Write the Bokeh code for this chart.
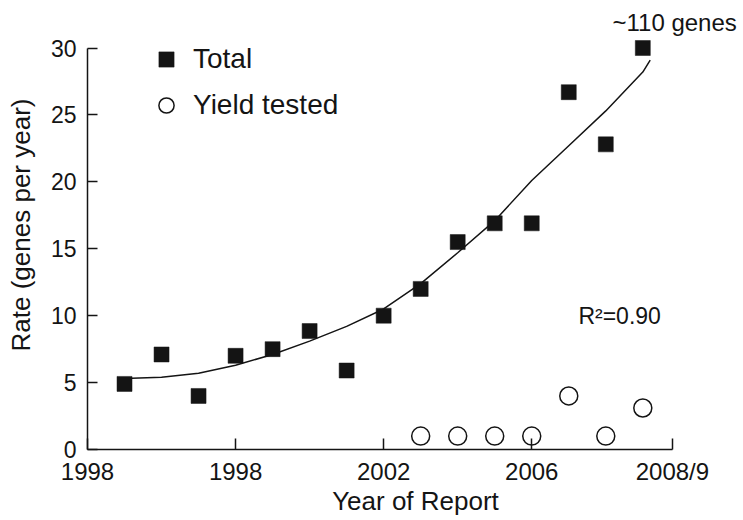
from bokeh.plotting import figure
from bokeh.models import Range1d, FixedTicker, Legend, LegendItem, ColumnDataSource
from bokeh.core.properties import value
from bokeh.embed import file_html
from bokeh.resources import INLINE

# ---- data ----
years = [1995, 1996, 1997, 1998, 1999, 2000, 2001, 2002,
         2003, 2004, 2005, 2006, 2007, 2008, 2009]
total = [4.9, 7.1, 4.0, 7.0, 7.5, 8.85, 5.9, 10.0,
         12.0, 15.5, 16.9, 16.9, 26.7, 22.8, 30.0]
yield_years = [2003, 2004, 2005, 2006, 2007, 2008, 2009]
yield_tested = [1.0, 1.0, 1.0, 1.0, 4.0, 1.0, 3.1]
trend_years = [1995, 1996, 1997, 1998, 1999, 2000, 2001, 2002,
               2003, 2004, 2005, 2006, 2007, 2008, 2009, 2009.2]
trend = [5.3, 5.4, 5.7, 6.3, 7.1, 8.1, 9.2, 10.5,
         12.4, 14.7, 17.1, 20.1, 22.7, 25.3, 28.2, 29.1]
x_ticks = [1994, 1998, 2002, 2006, 2009.8]
x_tick_labels = ["1998", "1998", "2002", "2006", "2008/9"]
y_ticks = [0, 5, 10, 15, 20, 25, 30]

FONT = "Liberation Sans"
INK = "#141414"

p = figure(width=743, height=520, output_backend="svg", toolbar_location=None,
           x_range=Range1d(1994, 2011.72), y_range=Range1d(0, 33.55),
           min_border_left=87, min_border_right=0, min_border_top=0,
           min_border_bottom=71)
p.outline_line_color = None
p.xgrid.visible = False
p.ygrid.visible = False
p.background_fill_color = "white"
p.border_fill_color = "white"

src_total = ColumnDataSource(dict(x=years, y=total))
src_yield = ColumnDataSource(dict(x=yield_years, y=yield_tested))
src_trend = ColumnDataSource(dict(x=trend_years, y=trend))

p.line("x", "y", source=src_trend, line_color=INK, line_width=1.5)
r_total = p.scatter("x", "y", source=src_total, marker="square", size=15,
                    fill_color=INK, line_color=INK, line_width=0.5)
r_yield = p.scatter("x", "y", source=src_yield, marker="circle", size=18,
                    fill_color="white", line_color=INK, line_width=1.5)

# axes
xa = p.xaxis[0]
xa.bounds = (1994, 2009.8)
xa.ticker = FixedTicker(ticks=x_ticks)
xa.major_label_overrides = {t: l for t, l in zip(x_ticks, x_tick_labels)}
xa.minor_tick_line_color = None
xa.major_tick_in = 11
xa.major_tick_out = 0
xa.axis_line_width = 1.5
xa.major_tick_line_width = 1.5
xa.axis_line_color = INK
xa.major_tick_line_color = INK
xa.major_label_text_font = FONT
xa.major_label_text_font_size = "24px"
xa.major_label_text_color = INK
xa.major_label_standoff = 8
xa.axis_label = "Year of Report"
xa.axis_label_text_font = FONT
xa.axis_label_text_font_size = "26px"
xa.axis_label_text_font_style = "normal"
xa.axis_label_text_color = INK
xa.axis_label_standoff = -2

ya = p.yaxis[0]
ya.bounds = (0, 30)
ya.ticker = FixedTicker(ticks=y_ticks)
ya.minor_tick_line_color = None
ya.major_tick_in = 10
ya.major_tick_out = 0
ya.axis_line_width = 1.5
ya.major_tick_line_width = 1.5
ya.axis_line_color = INK
ya.major_tick_line_color = INK
ya.major_label_text_font = FONT
ya.major_label_text_font_size = "23px"
ya.major_label_text_color = INK
ya.major_label_standoff = 11
ya.axis_label = "Rate (genes per year)"
ya.axis_label_text_font = FONT
ya.axis_label_text_font_size = "26px"
ya.axis_label_text_font_style = "normal"
ya.axis_label_text_color = INK
ya.axis_label_standoff = 12

# annotations
p.text(x=[2007.26], y=[10.0], text=["R²=0.90"], text_font=value(FONT),
       text_font_size="23px", text_color=INK, text_baseline="middle",
       text_align="left")
p.text(x=[2008.18], y=[31.9], text=["~110 genes"], text_font=value(FONT),
       text_font_size="24px", text_color=INK, text_baseline="middle",
       text_align="left")

legend = Legend(items=[LegendItem(label="Total", renderers=[r_total]),
                       LegendItem(label="Yield tested", renderers=[r_yield])],
                location=(60, 324))
legend.background_fill_alpha = 0
legend.border_line_color = None
legend.padding = 0
legend.margin = 0
legend.spacing = 6
legend.glyph_width = 38
legend.glyph_height = 40
legend.label_height = 40
legend.label_standoff = 8
legend.label_text_font = FONT
legend.label_text_font_size = "28px"
legend.label_text_color = INK
legend.label_text_baseline = "middle"
p.add_layout(legend)

open("out.html", "w").write(file_html(p, INLINE))
